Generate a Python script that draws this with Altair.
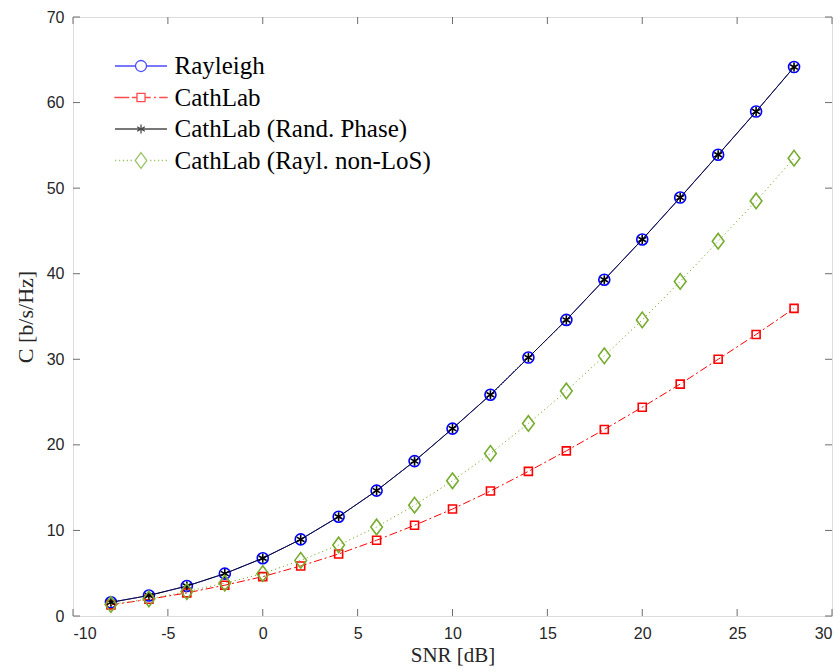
import altair as alt
import pandas as pd

# ---------------- data ----------------
snr = [-8, -6, -4, -2, 0, 2, 4, 6, 8, 10, 12, 14, 16, 18, 20, 22, 24, 26, 28]
rayleigh = [1.6, 2.4, 3.5, 4.95, 6.75, 8.95, 11.6, 14.65, 18.1, 21.9, 25.85, 30.2,
            34.6, 39.3, 44.0, 48.9, 53.9, 58.95, 64.15]
cathlab = [1.3, 1.95, 2.7, 3.6, 4.6, 5.85, 7.25, 8.85, 10.6, 12.5, 14.6, 16.9,
           19.3, 21.8, 24.4, 27.1, 30.0, 32.9, 35.95]
rand_phase = [1.6, 2.4, 3.5, 4.95, 6.75, 8.95, 11.6, 14.65, 18.1, 21.9, 25.85, 30.2,
              34.6, 39.3, 44.0, 48.9, 53.9, 58.95, 64.15]
nonlos = [1.35, 2.0, 2.85, 3.85, 4.95, 6.5, 8.3, 10.4, 12.95, 15.8, 19.0, 22.5,
          26.3, 30.4, 34.6, 39.1, 43.8, 48.5, 53.5]

series_names = ["Rayleigh", "CathLab", "CathLab (Rand. Phase)", "CathLab (Rayl. non-LoS)"]
series_values = [rayleigh, cathlab, rand_phase, nonlos]
series_colors = ["#0000FF", "#FF0000", "#000000", "#77AC30"]

x_ticks = [-10, -5, 0, 5, 10, 15, 20, 25, 30]
y_ticks = [0, 10, 20, 30, 40, 50, 60, 70]

rows = []
for name, vals in zip(series_names, series_values):
    for s, v in zip(snr, vals):
        rows.append({"series": name, "snr": s, "cap": v})
df = pd.DataFrame(rows)

W, H = 759, 599
FRAME = "#6e6e6e"
TICKLEN = 7

x_scale = alt.Scale(domain=[-10, 30], nice=False, zero=False)
y_scale = alt.Scale(domain=[0, 70], nice=False, zero=False)

x_axis = alt.Axis(values=x_ticks, title="SNR [dB]", ticks=False, tickSize=0, domain=False,
                  grid=False, labelFont="Liberation Sans", labelFontSize=16,
                  labelExpr="'' + datum.value",
                  labelColor="#262626", labelPadding=9, titleFont="Liberation Serif",
                  titleFontSize=21, titleFontWeight="normal", titleColor="#262626",
                  titleY=45, titleBaseline="alphabetic")
y_axis = alt.Axis(values=y_ticks, title="C [b/s/Hz]", ticks=False, tickSize=0, domain=False,
                  grid=False, labelFont="Liberation Sans", labelFontSize=16,
                  labelExpr="'' + datum.value",
                  labelColor="#262626", labelPadding=9, titleFont="Liberation Serif",
                  titleFontSize=22, titleFontWeight="normal", titleColor="#262626",
                  titleX=-48, titleY=H / 2, titleAngle=-90, titleBaseline="middle",
                  titleAlign="center")


def xe(field):
    return alt.X(field, scale=x_scale, axis=x_axis)


def ye(field):
    return alt.Y(field, scale=y_scale, axis=y_axis)


base = alt.Chart(df)

dashes = {
    "Rayleigh": [1, 0],
    "CathLab": [8, 3, 2, 3],
    "CathLab (Rand. Phase)": [1, 0],
    "CathLab (Rayl. non-LoS)": [1.2, 3],
}

# marker paths (unit scale r = sqrt(size)/2)
ASTER = "M0,-0.7V0.7M-0.6,-0.35L0.6,0.35M-0.6,0.35L0.6,-0.35"
DIAM = "M0,-1.2L0.9,0L0,1.2L-0.9,0Z"
marker_shape = {
    "Rayleigh": ("circle", 121),
    "CathLab": ("square", 64),
    "CathLab (Rand. Phase)": (ASTER, 169),
    "CathLab (Rayl. non-LoS)": (DIAM, 169),
}

all_layers = []
for name, col in zip(series_names, series_colors):
    sub = base.transform_filter(alt.datum.series == name)
    line = sub.mark_line(color=col, strokeWidth=1, strokeDash=dashes[name]).encode(
        x=xe("snr:Q"), y=ye("cap:Q"))
    shp, sz = marker_shape[name]
    pts = sub.mark_point(shape=shp, size=sz, filled=False, color=col,
                         strokeWidth=1.6, opacity=1).encode(x=xe("snr:Q"), y=ye("cap:Q"))
    all_layers += [line, pts]

# legend symbols: line segment + marker drawn as one path (r = 6.5 px per unit)
leg_paths = [
    "M-4,0H-0.85M0.85,0H4M-0.85,0A0.85,0.85 0 1,0 0.85,0A0.85,0.85 0 1,0 -0.85,0",
    "M-4.1,0H-1.8M-1.4,0H-0.62M0.62,0H1.5M2.0,0H2.3M2.8,0H4.1M-0.62,-0.62H0.62V0.62H-0.62Z",
    "M-4,0H4M0,-0.7V0.7M-0.6,-0.35L0.6,0.35M-0.6,0.35L0.6,-0.35",
    "M-4,0H-3.8M-3.4,0H-3.2M-2.8,0H-2.6M-2.2,0H-2.0M-1.6,0H-1.4"
    "M1.4,0H1.6M2.0,0H2.2M2.6,0H2.8M3.2,0H3.4M3.8,0H4"
    "M0,-1.2L0.9,0L0,1.2L-0.9,0Z",
]

leg = alt.Legend(orient="none", legendX=55.5, legendY=36.5, title=None,
                 labelFont="Liberation Serif", labelFontSize=25,
                 labelColor="#000000", labelOffset=21, rowPadding=5.5,
                 symbolSize=169, symbolStrokeWidth=1.3, padding=0,
                 symbolFillColor="transparent", labelLimit=500)

legend_layer = base.transform_filter("false").mark_point(filled=False, size=169).encode(
    x=xe("snr:Q"),
    y=ye("cap:Q"),
    color=alt.Color("series:N", title=None,
                    scale=alt.Scale(domain=series_names, range=series_colors), legend=leg),
    shape=alt.Shape("series:N", title=None,
                    scale=alt.Scale(domain=series_names, range=leg_paths), legend=leg),
)

# inward ticks on all four sides
xt = pd.DataFrame({"t": x_ticks})
yt = pd.DataFrame({"t": y_ticks})
tick_bottom = alt.Chart(xt).mark_rule(color=FRAME, strokeWidth=1).encode(
    x=xe("t:Q"), y=alt.value(H), y2=alt.value(H - TICKLEN))
tick_top = alt.Chart(xt).mark_rule(color=FRAME, strokeWidth=1).encode(
    x=xe("t:Q"), y=alt.value(0), y2=alt.value(TICKLEN))
tick_left = alt.Chart(yt).mark_rule(color=FRAME, strokeWidth=1).encode(
    y=ye("t:Q"), x=alt.value(0), x2=alt.value(TICKLEN))
tick_right = alt.Chart(yt).mark_rule(color=FRAME, strokeWidth=1).encode(
    y=ye("t:Q"), x=alt.value(W), x2=alt.value(W - TICKLEN))

all_layers += [tick_bottom, tick_top, tick_left, tick_right, legend_layer]

chart = alt.layer(*all_layers).properties(
    width=W, height=H,
    autosize=alt.AutoSizeParams(type="none"),
    padding={"left": 73, "top": 17, "right": 7, "bottom": 56},
).configure_view(stroke=FRAME, strokeWidth=1).configure(background="white")

chart.save("out.html", embed_options={"renderer": "svg", "actions": False})
